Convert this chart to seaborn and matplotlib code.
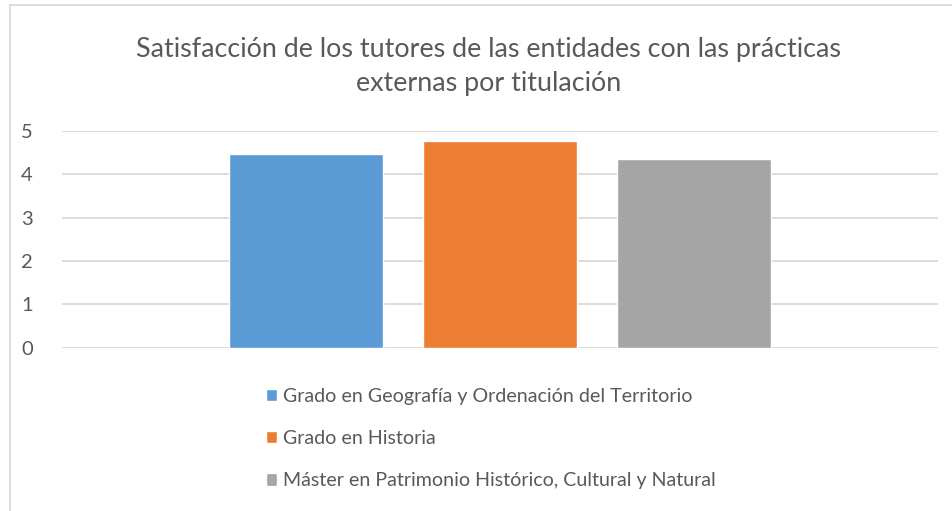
import numpy as np
import pandas as pd
import matplotlib
matplotlib.use("Agg")
import matplotlib.pyplot as plt
import seaborn as sns

sns.set_style("white")
plt.rcParams['font.family'] = ['Lato', 'DejaVu Sans']

# data
titulaciones = ["Grado en Geografía y Ordenación del Territorio",
                "Grado en Historia",
                "Máster en Patrimonio Histórico, Cultural y Natural"]
valores = [4.46, 4.76, 4.35]
colores = ["#5b9bd5", "#ed7d31", "#a5a5a5"]
titulo = "Satisfacción de los tutores de las entidades con las prácticas\nexternas por titulación"

df = pd.DataFrame({"grupo": [""] * len(titulaciones),
                   "titulacion": titulaciones,
                   "valor": valores})

gris = "#595959"
fig = plt.figure(figsize=(9.52, 5.11), dpi=100)
ax = fig.add_axes([0.0651, 0.3196, 0.920, 0.4246])

sns.barplot(data=df, x="grupo", y="valor", hue="titulacion", hue_order=titulaciones,
            palette=colores, width=0.8, gap=0.21, saturation=1, errorbar=None, ax=ax)

ax.set_xlim(-0.602, 0.602)
ax.set_ylim(0, 5)
ax.set_yticks(range(0, 6))
ax.set_xticks([])
ax.set_xlabel("")
ax.set_ylabel("")
ax.yaxis.grid(True, color="#d9d9d9", linewidth=1.3)
ax.set_axisbelow(True)
sns.despine(ax=ax, left=True, bottom=True)
ax.tick_params(axis="y", length=0, pad=21, labelsize=14.5, labelcolor=gris)

handles, labels = ax.get_legend_handles_labels()
ax.get_legend().remove()
fig.legend(handles, labels, loc="center left", bbox_to_anchor=(266 / 952, 1 - 438.5 / 511),
           frameon=False, fontsize=14.1, labelcolor=gris, handlelength=0.58, handleheight=0.58,
           handletextpad=0.3, labelspacing=1.3, borderpad=0, borderaxespad=0)

fig.text(489 / 952, 1 - 66.5 / 511, titulo, ha="center", va="center",
         fontsize=19.4, color=gris, linespacing=1.5)

# chart border (only left and top visible in the reference)
fig.add_artist(plt.Line2D([10 / 952, 10 / 952], [0, 1 - 5.5 / 511], transform=fig.transFigure,
                          color="#d9d9d9", linewidth=1.3))
fig.add_artist(plt.Line2D([10 / 952, 1], [1 - 5.5 / 511, 1 - 5.5 / 511], transform=fig.transFigure,
                          color="#d9d9d9", linewidth=1.3))

plt.savefig("out.png", dpi=100)
